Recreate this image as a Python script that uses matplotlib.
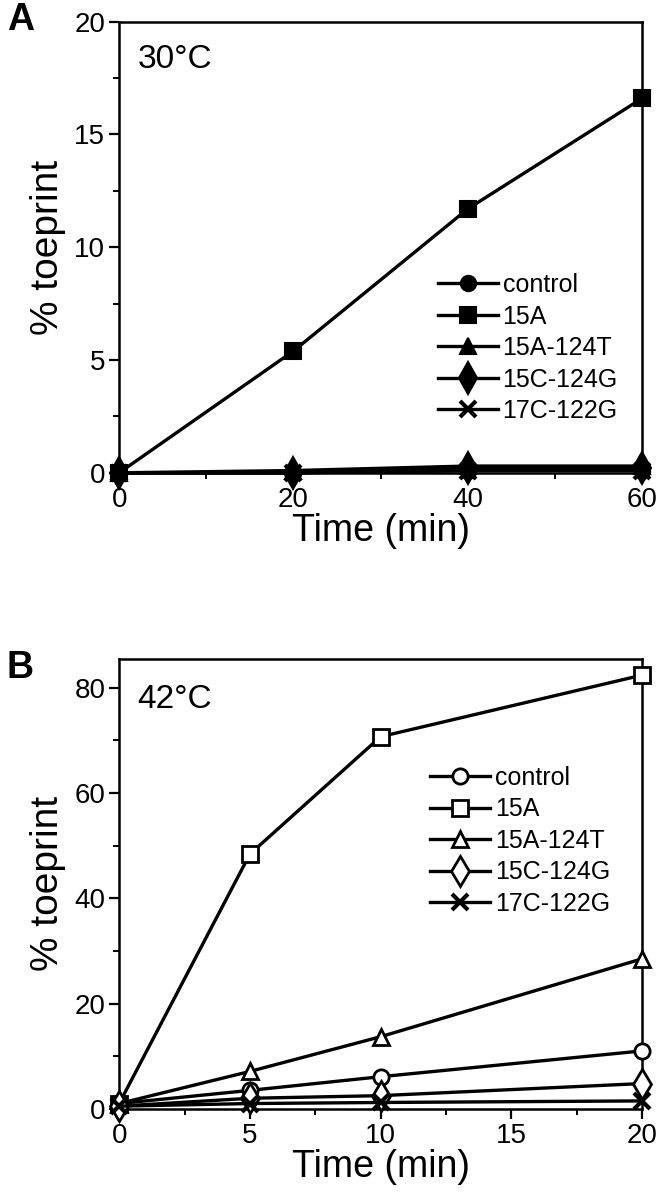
import numpy as np
import matplotlib.pyplot as plt
from matplotlib.ticker import MultipleLocator

plt.rcParams['font.family'] = ['Liberation Sans', 'DejaVu Sans']

labels = ['control', '15A', '15A-124T', '15C-124G', '17C-122G']
markers = ['o', 's', '^', 'd', 'x']

# panel A, 30 C
time_a = [0, 20, 40, 60]
vals_a = [
    [0.0, 0.0, 0.1, 0.1],
    [0.0, 5.4, 11.7, 16.6],
    [0.0, 0.1, 0.3, 0.3],
    [0.0, 0.0, 0.2, 0.2],
    [0.0, 0.0, 0.1, 0.1],
]

# panel B, 42 C
time_b = [0, 5, 10, 20]
vals_b = [
    [1.0, 3.5, 6.1, 11.0],
    [1.0, 48.4, 70.7, 82.4],
    [1.0, 7.1, 13.7, 28.5],
    [0.5, 2.0, 2.5, 4.8],
    [0.5, 1.0, 1.2, 1.5],
]

fig = plt.figure(figsize=(6.62, 12), dpi=100)
axA = fig.add_axes([0.18, 0.606, 0.79, 0.376])
axB = fig.add_axes([0.18, 0.076, 0.79, 0.375])


def style(ax):
    for s in ax.spines.values():
        s.set_linewidth(1.8)
    ax.tick_params(which='major', direction='out', length=7, width=1.6,
                   labelsize=20, pad=3)
    ax.tick_params(which='minor', direction='out', length=4, width=1.4)
    ax.set_xlabel('Time (min)', fontsize=27, labelpad=0)
    ax.set_ylabel('% toeprint', fontsize=28, labelpad=6)


# A: filled markers
for i in range(len(labels)):
    m = markers[i]
    msize = {'o': 11, 's': 12, '^': 12, 'd': 16, 'x': 11}[m]
    mew = 3 if m == 'x' else 1.5
    axA.plot(time_a, vals_a[i], marker=m, color='black', lw=2.4,
             ms=msize, mfc='black', mew=mew, label=labels[i], clip_on=False,
             zorder=3)
axA.set_xlim(0, 60)
axA.set_ylim(0, 20)
axA.xaxis.set_major_locator(MultipleLocator(20))
axA.xaxis.set_minor_locator(MultipleLocator(10))
axA.yaxis.set_major_locator(MultipleLocator(5))
axA.yaxis.set_minor_locator(MultipleLocator(2.5))
style(axA)
axA.text(0.035, 0.915, '30°C', transform=axA.transAxes, fontsize=24,
         va='center', ha='left')
axA.legend(loc='upper left', bbox_to_anchor=(0.585, 0.47), frameon=False,
           fontsize=18, handlelength=2.4, handletextpad=0.2,
           labelspacing=0.3, borderpad=0)

# B: open markers
for i in range(len(labels)):
    m = markers[i]
    msize = {'o': 11, 's': 11, '^': 12, 'd': 15, 'x': 11}[m]
    mew = 3 if m == 'x' else 2.0
    axB.plot(time_b, vals_b[i], marker=m, color='black', lw=2.4,
             ms=msize, mfc='white', mec='black', mew=mew,
             label=labels[i], clip_on=False, zorder=3)
axB.set_xlim(0, 20)
axB.set_ylim(0, 85.5)
axB.xaxis.set_major_locator(MultipleLocator(5))
axB.xaxis.set_minor_locator(MultipleLocator(2.5))
axB.yaxis.set_major_locator(MultipleLocator(20))
axB.yaxis.set_minor_locator(MultipleLocator(10))
style(axB)
axB.text(0.035, 0.91, '42°C', transform=axB.transAxes, fontsize=24,
         va='center', ha='left')
axB.legend(loc='upper left', bbox_to_anchor=(0.57, 0.79), frameon=False,
           fontsize=18, handlelength=2.4, handletextpad=0.2,
           labelspacing=0.3, borderpad=0)

fig.text(0.01, 0.983, 'A', fontsize=27, fontweight='bold', va='center')
fig.text(0.01, 0.443, 'B', fontsize=27, fontweight='bold', va='center')

fig.savefig('out.png', dpi=100)
